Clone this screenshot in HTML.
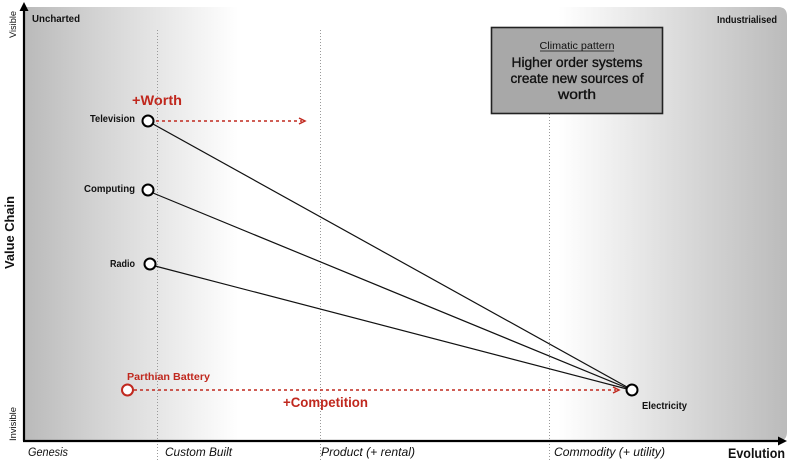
<!DOCTYPE html>
<html><head><meta charset="utf-8"><style>
html,body{margin:0;padding:0;background:#fff;}
svg{display:block;}
text{font-family:"Liberation Sans","DejaVu Sans",sans-serif;}
</style></head><body>
<svg width="800" height="466" viewBox="0 0 800 466" xmlns="http://www.w3.org/2000/svg">
<defs>
<linearGradient id="bg" x1="25" y1="0" x2="787" y2="0" gradientUnits="userSpaceOnUse">
<stop offset="0" stop-color="#bababa"/>
<stop offset="0.09" stop-color="#d2d2d2"/>
<stop offset="0.28" stop-color="#ffffff"/>
<stop offset="0.70" stop-color="#ffffff"/>
<stop offset="1" stop-color="#bbbbbb"/>
</linearGradient>
</defs>
<rect x="0" y="0" width="800" height="466" fill="#fff"/>
<path d="M25 7 H778 Q787 7 787 16 V432 Q787 441 778 441 H25 Z" fill="url(#bg)"/>

<!-- dotted verticals -->
<g stroke="#9a9a9a" stroke-width="1" stroke-dasharray="1,2">
<line x1="157.5" y1="30" x2="157.5" y2="462"/>
<line x1="320.5" y1="30" x2="320.5" y2="462"/>
<line x1="549.5" y1="114" x2="549.5" y2="462"/>
</g>

<!-- axes -->
<line x1="24" y1="441" x2="24" y2="8" stroke="#000" stroke-width="2.2"/>
<polygon points="24,2 19.5,11 28.5,11" fill="#000"/>
<line x1="23" y1="441" x2="780" y2="441" stroke="#000" stroke-width="2.2"/>
<polygon points="787,441 778,436.5 778,445.5" fill="#000"/>

<!-- axis labels -->
<text transform="translate(16,38) rotate(-90)" font-size="9" fill="#111" textLength="27" lengthAdjust="spacingAndGlyphs">Visible</text>
<text transform="translate(16,441) rotate(-90)" font-size="9" fill="#111" textLength="34" lengthAdjust="spacingAndGlyphs">Invisible</text>
<text transform="translate(14,269) rotate(-90)" font-size="13" font-weight="bold" fill="#111" textLength="73" lengthAdjust="spacingAndGlyphs">Value Chain</text>
<text x="32" y="22" font-size="10" font-weight="bold" fill="#111" textLength="48" lengthAdjust="spacingAndGlyphs">Uncharted</text>
<text x="717" y="23" font-size="10" font-weight="bold" fill="#111" textLength="60" lengthAdjust="spacingAndGlyphs">Industrialised</text>

<g font-size="12" font-style="italic" fill="#111">
<text x="28" y="456" textLength="40" lengthAdjust="spacingAndGlyphs">Genesis</text>
<text x="165" y="456" textLength="67" lengthAdjust="spacingAndGlyphs">Custom Built</text>
<text x="321" y="456" textLength="94" lengthAdjust="spacingAndGlyphs">Product (+ rental)</text>
<text x="554" y="456" textLength="111" lengthAdjust="spacingAndGlyphs">Commodity (+ utility)</text>
</g>
<text x="728" y="458" font-size="14" font-weight="bold" fill="#111" textLength="57" lengthAdjust="spacingAndGlyphs">Evolution</text>

<!-- box -->
<rect x="491.5" y="27.5" width="171" height="86" fill="#a8a8a8" stroke="#222" stroke-width="1.6"/>
<text x="577" y="49" font-size="10" fill="#111" text-anchor="middle" textLength="75" lengthAdjust="spacingAndGlyphs">Climatic pattern</text>
<line x1="540" y1="51" x2="614" y2="51" stroke="#111" stroke-width="0.8"/>
<g font-size="13.5" fill="#111" stroke="#111" stroke-width="0.35" text-anchor="middle">
<text x="577" y="67" textLength="131" lengthAdjust="spacingAndGlyphs">Higher order systems</text>
<text x="577" y="83" textLength="133" lengthAdjust="spacingAndGlyphs">create new sources of</text>
<text x="577" y="99" textLength="38" lengthAdjust="spacingAndGlyphs">worth</text>
</g>

<!-- lines to electricity -->
<g stroke="#111" stroke-width="1.2">
<line x1="153" y1="124" x2="627" y2="387"/>
<line x1="153" y1="193" x2="627" y2="388"/>
<line x1="155" y1="266" x2="627" y2="389"/>
</g>

<!-- red dashed arrows -->
<g stroke="#c0281e" stroke-width="1.5" stroke-dasharray="3,3" fill="none">
<line x1="156" y1="121" x2="302" y2="121"/>
<line x1="134" y1="390" x2="616" y2="390"/>
</g>
<path d="M299 118 L305 121 L299 124" stroke="#c0281e" stroke-width="1.5" fill="none"/>
<path d="M613 387 L619 390 L613 393" stroke="#c0281e" stroke-width="1.5" fill="none"/>

<!-- nodes -->
<g fill="#fff" stroke="#000" stroke-width="2">
<circle cx="148" cy="121" r="5.5"/>
<circle cx="148" cy="190" r="5.5"/>
<circle cx="150" cy="264" r="5.5"/>
<circle cx="632" cy="390" r="5.5"/>
</g>
<circle cx="127.5" cy="390" r="5.5" fill="#fff" stroke="#c0281e" stroke-width="2"/>

<!-- node labels -->
<g font-size="10" font-weight="bold" fill="#111" text-anchor="end">
<text x="135" y="122" textLength="45" lengthAdjust="spacingAndGlyphs">Television</text>
<text x="135" y="192" textLength="51" lengthAdjust="spacingAndGlyphs">Computing</text>
<text x="135" y="267" textLength="25" lengthAdjust="spacingAndGlyphs">Radio</text>
</g>
<text x="642" y="409" font-size="10" font-weight="bold" fill="#111" textLength="45" lengthAdjust="spacingAndGlyphs">Electricity</text>

<g fill="#c0281e" font-weight="bold">
<text x="132" y="105" font-size="14" textLength="50" lengthAdjust="spacingAndGlyphs">+Worth</text>
<text x="127" y="380" font-size="10" textLength="83" lengthAdjust="spacingAndGlyphs">Parthian Battery</text>
<text x="283" y="407" font-size="14" textLength="85" lengthAdjust="spacingAndGlyphs">+Competition</text>
</g>
</svg>
</body></html>
